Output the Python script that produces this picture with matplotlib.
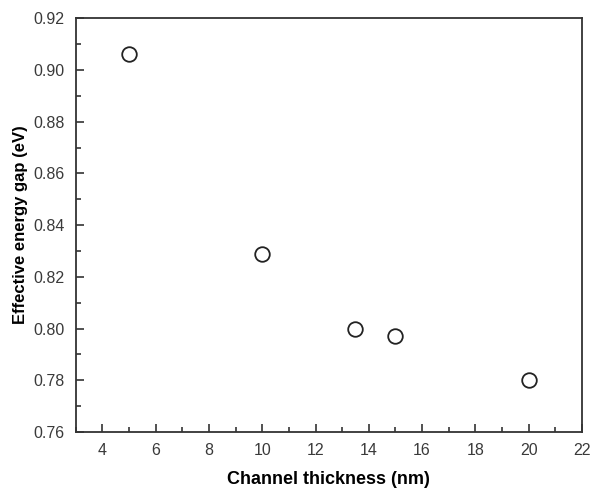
import matplotlib
matplotlib.use("Agg")
import matplotlib.pyplot as plt
from matplotlib.ticker import MultipleLocator

thickness = [5, 10, 13.5, 15, 20]
energy_gap = [0.906, 0.829, 0.800, 0.797, 0.780]
x_ticks = [4, 6, 8, 10, 12, 14, 16, 18, 20, 22]
y_ticks = [0.76, 0.78, 0.80, 0.82, 0.84, 0.86, 0.88, 0.90, 0.92]

plt.rcParams['font.family'] = ['Liberation Sans', 'DejaVu Sans']

fig = plt.figure(figsize=(5.92, 4.91), dpi=100)
ax = fig.add_axes([0.128, 0.12, 0.855, 0.843])

ax.plot(thickness, energy_gap, linestyle='none', marker='o', markersize=10.5,
        markerfacecolor='white', markeredgecolor='#222222', markeredgewidth=1.3)

ax.set_xlim(3, 22)
ax.set_ylim(0.76, 0.92)
ax.xaxis.set_minor_locator(MultipleLocator(1))
ax.yaxis.set_minor_locator(MultipleLocator(0.01))
ax.set_xticks(x_ticks)
ax.set_yticks(y_ticks)
ax.set_yticklabels([f"{v:.2f}" for v in y_ticks])

ax.tick_params(which='both', direction='in', top=False, right=False,
               colors='#333333', labelcolor='#3a3a3a', labelsize=11.5, width=1.2)
ax.tick_params(which='major', length=6, pad=8)
ax.tick_params(which='minor', length=3.5)
for s in ax.spines.values():
    s.set_color('#333333')
    s.set_linewidth(1.3)

ax.set_xlabel('Channel thickness (nm)', fontsize=13, fontweight='bold', labelpad=9)
ax.set_ylabel('Effective energy gap (eV)', fontsize=12, fontweight='bold', labelpad=4)

fig.savefig('out.png', dpi=100)
